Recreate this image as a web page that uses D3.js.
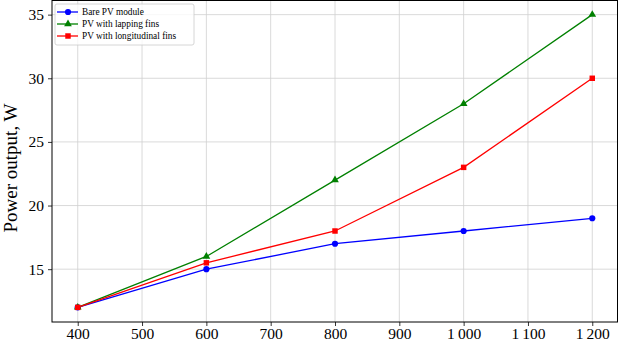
<!DOCTYPE html>
<html>
<head>
<meta charset="utf-8">
<script src="https://cdn.jsdelivr.net/npm/d3@7"></script>
<style>
  body { margin: 0; background: #fff; }
  text { font-family: "Liberation Serif", "Times New Roman", serif; }
</style>
</head>
<body>
<div id="chart"></div>
<script>
// irradiance values on the x axis
let irradiance = [400, 600, 800, 1000, 1200];
let barePV = [12, 15, 17, 18, 19];
let lappingFins = [12, 16, 22, 28, 35];
let longitudinalFins = [12, 15.5, 18, 23, 30];

let xTicks = [400, 500, 600, 700, 800, 900, 1000, 1100, 1200];
let yTicks = [15, 20, 25, 30, 35];

let seriesNames = ["Bare PV module", "PV with lapping fins", "PV with longitudinal fins"];

let svgWidth = 619;
let svgHeight = 342;
let margin = { top: 0, right: 1, bottom: 20, left: 52 };

let svg = d3.select('#chart')
  .append('svg')
  .attr('width', svgWidth)
  .attr('height', svgHeight);

let x = d3.scaleLinear()
  .domain([360, 1240])
  .range([margin.left, svgWidth - margin.right]);

let y = d3.scaleLinear()
  .domain([10.85, 36.15])
  .range([svgHeight - margin.bottom, margin.top]);

let fmt = d => d >= 1000 ? Math.floor(d / 1000) + '\u2009' + String(d % 1000).padStart(3, '0') : String(d);

// grid
svg.append('g')
  .selectAll('line')
  .data(xTicks)
  .enter()
  .append('line')
  .attr('x1', d => x(d)).attr('x2', d => x(d))
  .attr('y1', y.range()[0]).attr('y2', y.range()[1])
  .attr('stroke', '#d0d0d0').attr('stroke-width', 0.8);

svg.append('g')
  .selectAll('line')
  .data(yTicks)
  .enter()
  .append('line')
  .attr('y1', d => y(d)).attr('y2', d => y(d))
  .attr('x1', x.range()[0]).attr('x2', x.range()[1])
  .attr('stroke', '#d0d0d0').attr('stroke-width', 0.8);

// axes
let xAxis = svg.append('g')
  .attr('transform', 'translate(0,' + y.range()[0] + ')')
  .call(d3.axisBottom(x).tickValues(xTicks).tickFormat(fmt).tickSize(4).tickPadding(2));

let yAxis = svg.append('g')
  .attr('transform', 'translate(' + x.range()[0] + ',0)')
  .call(d3.axisLeft(y).tickValues(yTicks).tickSize(4).tickPadding(4));

[xAxis, yAxis].forEach(g => {
  g.attr('font-family', '"Liberation Serif", serif').attr('font-size', 15.5);
  g.select('.domain').remove();
  g.selectAll('text').attr('fill', '#000');
  g.selectAll('line').attr('stroke', '#000').attr('stroke-width', 0.8);
});

// frame
svg.append('rect')
  .attr('x', x.range()[0]).attr('y', y.range()[1] + 0.5)
  .attr('width', x.range()[1] - x.range()[0] - 0.5)
  .attr('height', y.range()[0] - y.range()[1] - 0.5)
  .attr('fill', 'none').attr('stroke', '#000').attr('stroke-width', 1);

// y label
svg.append('text')
  .attr('transform', 'translate(17,168) rotate(-90)')
  .attr('text-anchor', 'middle')
  .attr('font-size', 19)
  .text('Power output, W');

let series = [
  { name: seriesNames[0], values: barePV, color: '#0000ff', symbol: d3.symbolCircle, size: 30 },
  { name: seriesNames[1], values: lappingFins, color: '#008000', symbol: d3.symbolTriangle, size: 26 },
  { name: seriesNames[2], values: longitudinalFins, color: '#ff0000', symbol: d3.symbolSquare, size: 30 }
];

let line = d3.line()
  .x((d, i) => x(irradiance[i]))
  .y(d => y(d));

series.forEach(s => {
  svg.append('path')
    .datum(s.values)
    .attr('d', line)
    .attr('fill', 'none')
    .attr('stroke', s.color)
    .attr('stroke-width', 1.3);

  svg.append('g')
    .selectAll('path')
    .data(s.values)
    .enter()
    .append('path')
    .attr('d', d3.symbol().type(s.symbol).size(s.size))
    .attr('transform', (d, i) => 'translate(' + x(irradiance[i]) + ',' + y(d) + ')')
    .attr('fill', s.color);
});

// legend
let legend = svg.append('g').attr('transform', 'translate(55,4)');
legend.append('rect')
  .attr('width', 139).attr('height', 41)
  .attr('rx', 2)
  .attr('fill', 'rgba(255,255,255,0.8)')
  .attr('stroke', '#ccc').attr('stroke-width', 0.8);

series.forEach((s, i) => {
  let g = legend.append('g').attr('transform', 'translate(0,' + (8 + i * 12) + ')');
  g.append('line')
    .attr('x1', 2).attr('x2', 23)
    .attr('stroke', s.color).attr('stroke-width', 1.3);
  g.append('path')
    .attr('d', d3.symbol().type(s.symbol).size(s.size))
    .attr('transform', 'translate(13,0)')
    .attr('fill', s.color);
  g.append('text')
    .attr('x', 27).attr('y', 3.3)
    .attr('font-size', 9.3)
    .text(s.name);
});
</script>
</body>
</html>
